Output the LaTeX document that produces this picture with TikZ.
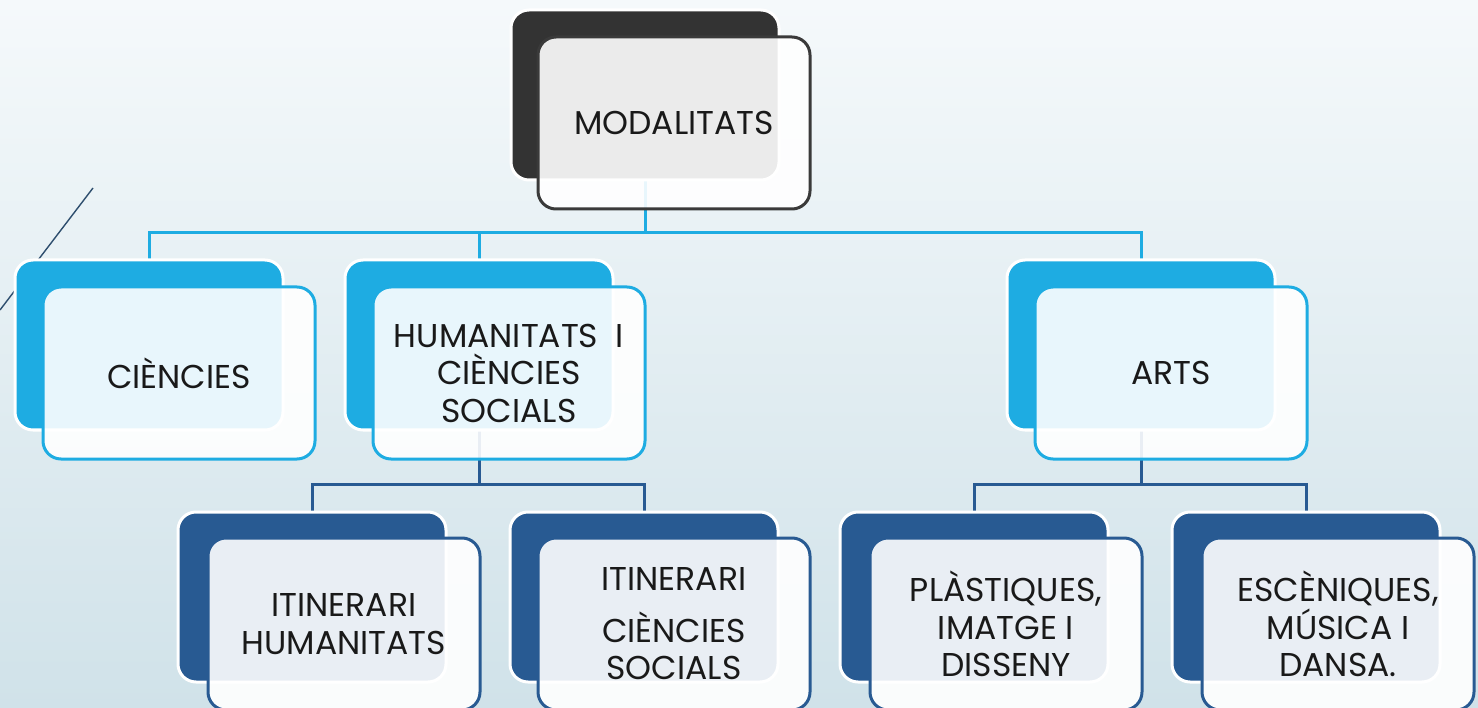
\documentclass[tikz,border=0pt]{standalone}
\usepackage{fontspec}
\setmainfont{Poppins}
\definecolor{bgtop}{HTML}{F5F9FB}
\definecolor{bgbot}{HTML}{D0E2E9}
\definecolor{darkbox}{HTML}{333333}
\definecolor{darkline}{HTML}{3A3A3A}
\definecolor{lblue}{HTML}{1EACE2}
\definecolor{dblue}{HTML}{285A92}
\definecolor{diagc}{HTML}{2E4E6E}
\pgfdeclarelayer{bglayer}
\pgfdeclarelayer{connlayer}
\pgfsetlayers{bglayer,connlayer,main}
\begin{document}
\begin{tikzpicture}[x=1pt,y=-1pt,
  backbox/.style={rectangle, rounded corners=18pt, draw=white, line width=3pt,
    minimum width=268pt, minimum height=170pt, anchor=north west,
    inner sep=0pt, outer sep=0pt},
  frontbox/.style={rectangle, rounded corners=18pt, line width=3pt, fill=white,
    fill opacity=0.9, text opacity=1, minimum width=272pt, minimum height=172pt,
    anchor=north west, align=center, font=\fontsize{33}{37.5}\selectfont,
    inner sep=0pt, outer sep=0pt, text=black!90},
  conn/.style={line width=3pt},
]
\begin{pgfonlayer}{bglayer}
  \clip (0,0) rectangle (1478,708);
  \fill[top color=bgtop, bottom color=bgbot] (0,0) rectangle (1478,708);
  \draw[diagc, line width=1.4pt] (93,188) -- (0,310);
\end{pgfonlayer}
\useasboundingbox (0,0) rectangle (1478,708);
\clip (0,0) rectangle (1478,708);

% level 0
\node[backbox, fill=darkbox] (m0b) at (511,10) {};
\node[frontbox, draw=darkline] (m0) at (538,37) {MODALITATS};

% level 1
\node[backbox, fill=lblue] (c1b) at (15,260) {};
\node[frontbox, draw=lblue] (c1) at (43,287) {CIÈNCIES};
\node[backbox, fill=lblue] (c2b) at (345,260) {};
\node[frontbox, draw=lblue] (c2) at (373,287) {HUMANITATS\ \ I\\CIÈNCIES\\SOCIALS};
\node[backbox, fill=lblue] (c3b) at (1007,260) {};
\node[frontbox, draw=lblue] (c3) at (1035,287) {ARTS};

% level 2
\node[backbox, fill=dblue] (d1b) at (178,512) {};
\node[frontbox, draw=dblue] (d1) at (208,538) {ITINERARI\\HUMANITATS};
\node[backbox, fill=dblue] (d2b) at (510,512) {};
\node[frontbox, draw=dblue] (d2) at (538,538) {ITINERARI\\[14pt]CIÈNCIES\\SOCIALS};
\node[backbox, fill=dblue] (d3b) at (840,512) {};
\node[frontbox, draw=dblue] (d3) at (870,538) {PLÀSTIQUES,\\IMATGE I\\DISSENY};
\node[backbox, fill=dblue] (d4b) at (1172,512) {};
\node[frontbox, draw=dblue] (d4) at (1202,538) {ESCÈNIQUES,\\MÚSICA I\\DANSA.};

\coordinate (j0) at (645,233);
\coordinate (j1) at (479,484);
\coordinate (j2) at (1141,484);
\begin{pgfonlayer}{connlayer}
  \draw[conn, lblue] (m0b.south) -- (j0);
  \draw[conn, lblue] (j0) -| (c1b.north);
  \draw[conn, lblue] (j0) -| (c2b.north);
  \draw[conn, lblue] (j0) -| (c3b.north);
  \draw[conn, dblue] (c2b.south) -- (j1);
  \draw[conn, dblue] (j1) -| (d1b.north);
  \draw[conn, dblue] (j1) -| (d2b.north);
  \draw[conn, dblue] (c3b.south) -- (j2);
  \draw[conn, dblue] (j2) -| (d3b.north);
  \draw[conn, dblue] (j2) -| (d4b.north);
\end{pgfonlayer}
\end{tikzpicture}
\end{document}
